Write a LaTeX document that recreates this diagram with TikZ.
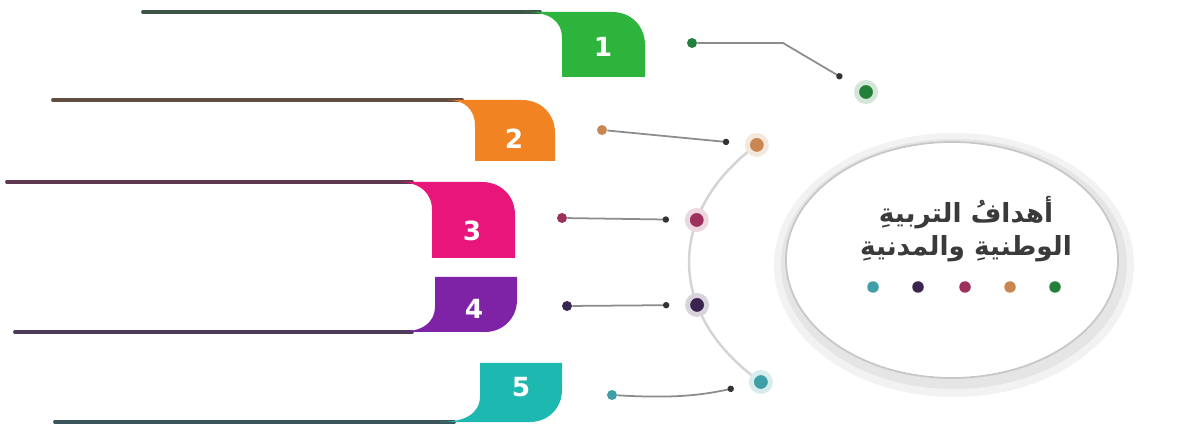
\documentclass[tikz,border=0pt]{standalone}
\usepackage{fontspec}
\usepackage{tikz}
\usetikzlibrary{calc, arrows.meta}
\TeXXeTstate=1
\newfontfamily\arabicfont[Script=Arabic]{DejaVu Sans}
\newfontfamily\numfont{DejaVu Sans}
\definecolor{TabGreen}{HTML}{2DB43C}
\definecolor{TabOrange}{HTML}{F28322}
\definecolor{TabPink}{HTML}{E8157A}
\definecolor{TabPurple}{HTML}{7E22A6}
\definecolor{TabTeal}{HTML}{1DB8B0}
\definecolor{DotGreen}{HTML}{23803A}
\definecolor{DotOrange}{HTML}{C98650}
\definecolor{DotPink}{HTML}{9E305E}
\definecolor{DotPurple}{HTML}{3A2450}
\definecolor{DotTeal}{HTML}{3E9FA6}
\definecolor{RailGrey}{HTML}{404048}
\definecolor{LinkGrey}{HTML}{8C8C8C}
\definecolor{DarkLine}{HTML}{333333}
\definecolor{TitleGrey}{HTML}{3A3A3A}

\begin{document}
\begin{tikzpicture}[
  x=0.02cm, y=-0.02cm,
  rail/.style  = {line width=2.2pt, line cap=round, draw=#1!18!RailGrey},
  num/.style   = {font=\numfont\bfseries\fontsize{15}{15}\selectfont, text=white},
  sdot/.style  = {circle, fill=#1, minimum size=0.2cm, inner sep=0pt},
  tdot/.style  = {circle, fill=#1, draw=#1!20, line width=2.8pt,
                  minimum size=0.38cm, inner sep=0pt},
  mdot/.style  = {circle, fill=#1, minimum size=0.23cm, inner sep=0pt},
  link/.style  = {draw=LinkGrey, line width=1pt, shorten >=9pt,
                  -{Circle[length=3.6pt, color=DarkLine]}},
  orbit/.style = {draw=black!17, line width=1.4pt},
  title/.style = {font=\arabicfont\bfseries\fontsize{15}{19}\selectfont,
                  text=TitleGrey, align=center}
]
  \useasboundingbox (0,0) rectangle (1199,428);
  \fill[white] (0,0) rectangle (1199,428);

  % Hub disc with soft shadow
  \coordinate (disc) at (952,260);
  \fill[black!5]  ($(disc)+(2,5)$) ellipse[x radius=180, y radius=132];
  \fill[black!10] ($(disc)+(2,4)$) ellipse[x radius=173, y radius=125];
  \draw[fill=white, draw=black!22, line width=1pt] (disc) ellipse[x radius=166, y radius=118];

  % Orbit arc carrying the dots
  \coordinate (hub) at (953,262);
  \draw[orbit] ($(hub)+(222:264 and 175)$)
    arc[start angle=222, end angle=136.7, x radius=264, y radius=175];

  % Target dots
  \node[tdot=DotGreen]  (dot1) at (866,92) {};
  \node[tdot=DotOrange] (dot2) at ($(hub)+(222:264 and 175)$) {};
  \node[tdot=DotPink]   (dot3) at ($(hub)+(193.9:264 and 175)$) {};
  \node[tdot=DotPurple] (dot4) at ($(hub)+(165.8:264 and 175)$) {};
  \node[tdot=DotTeal]   (dot5) at ($(hub)+(136.7:264 and 175)$) {};

  % Source dots
  \node[sdot=DotGreen]  (src1) at (692,43) {};
  \node[sdot=DotOrange] (src2) at (602,130) {};
  \node[sdot=DotPink]   (src3) at (562,218) {};
  \node[sdot=DotPurple] (src4) at (567,306) {};
  \node[sdot=DotTeal]   (src5) at (612,395) {};

  % Connectors
  \draw[link] (src1) -- (783,43) -- (dot1);
  \draw[link] (src2) -- (dot2);
  \draw[link] (src3) -- (dot3);
  \draw[link] (src4) -- (dot4);
  \draw[link] (src5) to[bend right=8] (dot5);

  % Tabs 1-3: rail on top
  \draw[rail=TabGreen] (143,12) -- (540,12);
  \fill[TabGreen] (526,12) -- (612,12) .. controls (631,12) and (645,26) .. (645,45)
    -- (645,77) -- (562,77) -- (562,38) .. controls (562,21) and (549,12) .. (526,12) -- cycle;
  \draw[rail=TabOrange] (53,100) -- (462,100);
  \fill[TabOrange] (448,100) -- (522,100) .. controls (541,100) and (555,114) .. (555,133)
    -- (555,161) -- (475,161) -- (475,126) .. controls (475,109) and (464,100) .. (448,100) -- cycle;
  \draw[rail=TabPink] (7,182) -- (412,182);
  \fill[TabPink] (398,182) -- (482,182) .. controls (501,182) and (515,196) .. (515,215)
    -- (515,258) -- (432,258) -- (432,210) .. controls (432,193) and (420,182) .. (398,182) -- cycle;

  % Tabs 4-5: rail at the bottom
  \draw[rail=TabPurple] (15,332) -- (412,332);
  \fill[TabPurple] (398,332) .. controls (422,332) and (435,323) .. (435,306)
    -- (435,277) -- (517,277) -- (517,300) .. controls (517,318) and (503,332) .. (485,332) -- cycle;
  \draw[rail=TabTeal] (55,422) -- (454,422);
  \fill[TabTeal] (440,422) .. controls (466,422) and (480,413) .. (480,396)
    -- (480,363) -- (562,363) -- (562,390) .. controls (562,408) and (548,422) .. (530,422) -- cycle;

  % Tab numbers
  \node[num] (n1) at (603,47)  {1};
  \node[num] (n2) at (514,139) {2};
  \node[num] (n3) at (472,231) {3};
  \node[num] (n4) at (474,309) {4};
  \node[num] (n5) at (521,387) {5};

  % Title and colour key
  \node[title] (title) at (966,229)
    {\beginR أهدافُ التربيةِ\endR\\\beginR الوطنيةِ والمدنيةِ\endR};
  \node[mdot=DotTeal]   (k1) at (873,287)  {};
  \node[mdot=DotPurple] (k2) at (918,287)  {};
  \node[mdot=DotPink]   (k3) at (965,287)  {};
  \node[mdot=DotOrange] (k4) at (1010,287) {};
  \node[mdot=DotGreen]  (k5) at (1055,287) {};
\end{tikzpicture}
\end{document}
